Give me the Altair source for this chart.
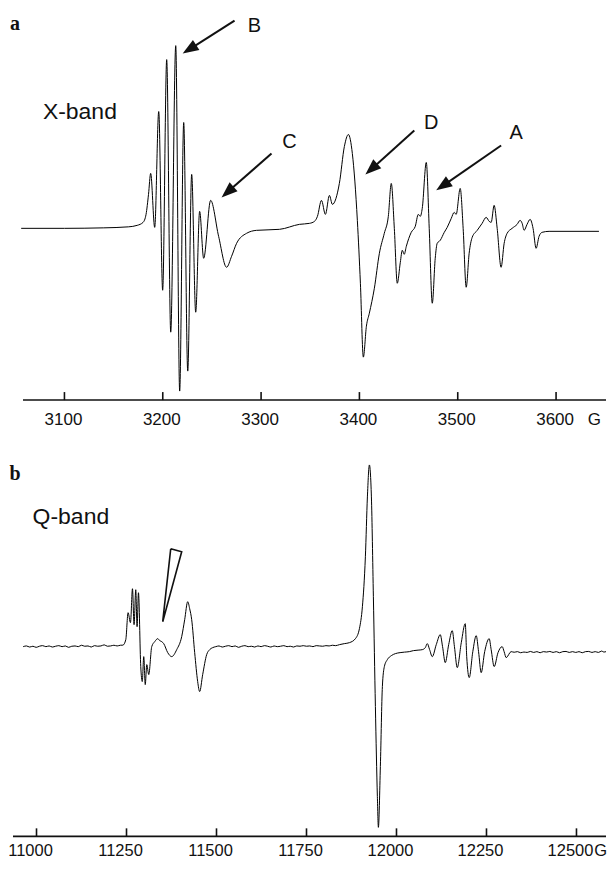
import altair as alt
import pandas as pd

# ---------------- Panel a: X-band EPR spectrum (field in G, signal in a.u.) -------------
xband_field = [3056, 3100, 3140, 3165, 3174, 3180, 3183, 3185.5, 3187.7, 3191.8, 3195.9, 3199.9,
               3204.0, 3208.1, 3213.2, 3217.2, 3221.3, 3225.4, 3229.4, 3233.5, 3237.5, 3241.6,
               3248.7, 3256.8, 3264.9, 3270.0, 3275.1, 3285.2, 3295.4, 3318.7, 3339.0, 3349.2,
               3354.3, 3357.3, 3361.4, 3365.4, 3369.5, 3372.5, 3379.6, 3384.7, 3388.8, 3392.8,
               3397.9, 3401.0, 3404.0, 3407.1, 3410.1, 3415.2, 3420.3, 3425.3, 3429.4, 3432.4,
               3435.5, 3438.5, 3441.6, 3443.6, 3445.6, 3447.7, 3452.7, 3456.8, 3459.9, 3461.9,
               3463.9, 3468.0, 3471.0, 3474.1, 3477.1, 3479.1, 3482.2, 3486.3, 3489.3, 3493.4,
               3496.4, 3498.4, 3502.5, 3505.5, 3508.6, 3511.6, 3514.7, 3519.8, 3524.8, 3528.9,
               3532.0, 3534.0, 3537.0, 3540.1, 3544.1, 3547.2, 3550.2, 3555.3, 3560.4, 3563.4,
               3565.5, 3567.5, 3570.5, 3573.6, 3576.6, 3579.7, 3582.7, 3585.8, 3592.9, 3643.6]
xband_signal = [0, 0, 0.5, 1.5, 3, 6, 14, 34, 55, 1, 117, -62,
                169, -104, 183, -163, 106, -143, 54, -84, 17, -30,
                28, -8, -39, -28, -15, -5, -2, -1, 4, 5,
                7, 12, 28, 14, 33, 24, 45, 82, 94, 75,
                8, -55, -129, -98, -85, -60, -25, -5, 12, 45,
                0, -55, -34, -22, -26, -18, -4, 2, 14, 12,
                20, 66, 0, -75, -30, -15, -12, -4, 1, 10,
                16, 14, 40, 0, -59, -25, -9, -2, 5, 11,
                7, 6, 23, 0, -39, -15, -5, 0, 4, 8,
                5, -2, 4, 9, 0, -20, -8, -4, -3, -3]

# ---------------- Panel b: Q-band EPR spectrum ----------------
qband_field = [10963, 10972, 10981, 10990, 10999, 11008, 11017, 11026, 11035, 11044, 11053, 11062,
               11071, 11080, 11089, 11098, 11107, 11116, 11125, 11134, 11143, 11152, 11161, 11170,
               11179, 11188, 11197, 11206, 11215, 11224, 11233, 11240,
               11248, 11254.4, 11261.0, 11266.6, 11271.0, 11275.7, 11279.4, 11283.2,
               11289.6, 11293.8, 11297.9, 11302.1, 11306.3, 11311.8, 11320.1, 11328.4, 11336.8,
               11342.3, 11347.9, 11353.4, 11364.5, 11375.6, 11389.5, 11403.3, 11411.6, 11420.0,
               11425.5, 11431.1, 11439.4, 11447.7, 11453.2, 11461.6, 11472.7, 11481.0, 11489.3,
               11498, 11507, 11516, 11525, 11534, 11543, 11552, 11561, 11570, 11579, 11588, 11597,
               11606, 11615, 11624, 11633, 11642, 11651, 11660, 11669, 11678, 11687, 11696, 11705,
               11714, 11723, 11732, 11741, 11750, 11759, 11768, 11777, 11786, 11795, 11804, 11813,
               11822, 11831, 11841.5,
               11855, 11869.3, 11885.9, 11897.0, 11905.3, 11913.6, 11919.2, 11924.7, 11930.3,
               11935.8, 11941.4, 11946.9, 11949.7, 11955.2, 11960.8, 11966.3, 11974.6, 11985.7,
               11996.8, 12010, 12022, 12035.7, 12047, 12060, 12071.7,
               12080, 12085.6, 12092, 12099.4, 12110.5, 12121.6, 12128, 12135.5, 12145, 12154.9,
               12161, 12168.8, 12180, 12191.0, 12195.1, 12202.1, 12212, 12221.5, 12228, 12235.3,
               12245, 12257.5, 12263, 12271.4, 12282, 12293.6, 12299, 12304.7, 12318.5,
               12327, 12336, 12345, 12354, 12363, 12372, 12381, 12390, 12399, 12408, 12417, 12426,
               12435, 12444, 12453, 12462, 12471, 12480, 12489, 12498, 12507, 12516, 12525, 12534,
               12543, 12552, 12561, 12570, 12576, 12582]
qband_signal = [0, 0.7, -0.4, 0.4, -0.7, 0.4, 1.0, 0, 0.7, -0.4, 0.4, 1.0,
                0, 0.7, -0.7, 0.4, 0.7, 0, 1.4, 0.4, 0.7, -0.4, 1.0, 0.4,
                0.7, 1.8, 0.4, 0.7, 1.4, 0.7, 1.4, 1.5,
                7, 34, 24, 58, 22, 57, 20, 54,
                -20, -35, -10, -38, -18, -28, 0, 5, 8,
                6, 5, 3, -6, -10, -3, 10, 27, 45,
                38, 27, -6, -35, -45, -28, -8, -3, -1,
                0, 0.7, -0.4, 0.4, 1.0, 0, 0.7, -0.7, 0.4, 1.0, 0, 0.4,
                -0.4, 0.7, 0, 1.0, 0.4, -0.4, 0.7, 0, 0.4, 1.0, 0, 0.4,
                -0.4, 0.7, 0.4, 1.0, 0.4, 0.7, 0, 1.0, 0.7, 0.4, 1.0, 0.7,
                1.4, 1.0, 2,
                3, 4, 8, 18, 40, 90, 150, 182, 150,
                50, -60, -150, -181, -120, -40, -20, -13, -9,
                -7, -6, -5.5, -5, -4, -3.5, -3,
                -1, 3, -3, -10, 2, 12, 0, -16, 2, 16,
                0, -21, 4, 23, -10, -31, -5, 11, -5, -26,
                -5, 8, -3, -20, -6, 0, -5, -11, -5,
                -5.6, -5, -6.1, -5.4, -5.8, -4.8, -5.8, -5, -6.1, -5, -5.4, -4.8,
                -5.8, -5, -6.1, -5, -4.8, -5.8, -5, -5.8, -5, -6.1, -5, -4.8,
                -5.8, -5, -5.8, -4.4, -5.4, -5]

xband_ticks = [3100, 3200, 3300, 3400, 3500, 3600]
qband_ticks = [11000, 11250, 11500, 11750, 12000, 12250, 12500]

# annotations of panel a (data coordinates)
peak_labels = ["B", "C", "D", "A"]
peak_label_field = [3293.3, 3328.9, 3473.1, 3559.4]
peak_label_signal = [203, 86, 106, 95]
arrow_from_field = [3273.0, 3310.6, 3455.8, 3544.1]
arrow_from_signal = [208, 75, 98, 83]
arrow_head_field = [3227.1, 3265.9, 3412.1, 3484.8]
arrow_head_signal = [179.3, 36.3, 59.3, 42.6]
arrow_angle = [237.6, 228.6, 228.1, 235.3]

# annotations of panel b: open triangle pointer
pointer_field = [11372.8, 11403.3, 11350.6, 11372.8]
pointer_signal = [98, 95, 25, 98]

FONT = "Liberation Sans"
INK = "#111111"
W, H1, H2 = 600, 425, 428

xa = alt.Scale(domain=[3042.6, 3651.8], nice=False, zero=False)
ya = alt.Scale(domain=[-205, 220], nice=False, zero=False)
xb = alt.Scale(domain=[10920.8, 12584.8], nice=False, zero=False)
yb = alt.Scale(domain=[-214, 214], nice=False, zero=False)


def spectrum(field, signal, xs, ys):
    df = pd.DataFrame({"G": field, "I": signal})
    return alt.Chart(df).mark_line(color="#000000", strokeWidth=1.0, interpolate="monotone").encode(
        x=alt.X("G:Q", scale=xs, axis=None),
        y=alt.Y("I:Q", scale=ys, axis=None),
    )


def axis_layers(ticks, xs, x0, x1, yline, label_y, label_dx, unit_x, fsize):
    tdf = pd.DataFrame({"t": ticks})
    one = pd.DataFrame({"u": ["G"]})
    line = alt.Chart(one).mark_rule(color=INK, strokeWidth=1.6).encode(
        x=alt.value(x0), x2=alt.value(x1), y=alt.value(yline))
    tk = alt.Chart(tdf).mark_rule(color=INK, strokeWidth=1.6).encode(
        x=alt.X("t:Q", scale=xs, axis=None), y=alt.value(yline - 8), y2=alt.value(yline))
    lab = alt.Chart(tdf).mark_text(font=FONT, fontSize=fsize, color=INK, baseline="middle",
                                   align="center", dx=label_dx).encode(
        x=alt.X("t:Q", scale=xs, axis=None), y=alt.value(label_y),
        text=alt.Text("t:Q", format="d"))
    unit = alt.Chart(one).mark_text(font=FONT, fontSize=fsize, color=INK, baseline="middle",
                                    align="right").encode(
        x=alt.value(unit_x), y=alt.value(label_y), text="u:N")
    return [line, tk, lab, unit]


def text_at(txt, g, i, xs, ys, size, font=FONT, weight="normal"):
    df = pd.DataFrame({"G": [g], "I": [i], "t": [txt]})
    return alt.Chart(df).mark_text(font=font, fontSize=size, fontWeight=weight, color=INK,
                                   align="center", baseline="middle").encode(
        x=alt.X("G:Q", scale=xs, axis=None), y=alt.Y("I:Q", scale=ys, axis=None), text="t:N")


# ---- panel a
ann = pd.DataFrame({"lab": peak_labels, "lg": peak_label_field, "li": peak_label_signal,
                    "g0": arrow_from_field, "i0": arrow_from_signal,
                    "g1": arrow_head_field, "i1": arrow_head_signal, "ang": arrow_angle})
shafts = alt.Chart(ann).mark_rule(color=INK, strokeWidth=2).encode(
    x=alt.X("g0:Q", scale=xa, axis=None), y=alt.Y("i0:Q", scale=ya, axis=None),
    x2="g1:Q", y2="i1:Q")
heads = alt.Chart(ann).mark_point(shape="M0,-1L-0.75,1L0.75,1Z", filled=True, opacity=1,
                                  color=INK, size=256, strokeWidth=0).encode(
    x=alt.X("g1:Q", scale=xa, axis=None), y=alt.Y("i1:Q", scale=ya, axis=None),
    angle=alt.Angle("ang:Q", scale=None))
peak_text = alt.Chart(ann).mark_text(font=FONT, fontSize=20, color=INK, align="center",
                                     baseline="middle").encode(
    x=alt.X("lg:Q", scale=xa, axis=None), y=alt.Y("li:Q", scale=ya, axis=None), text="lab:N")

top = alt.layer(
    *axis_layers(xband_ticks, xa, 15, 599, 392, 412, -1, 594, 17),
    spectrum(xband_field, xband_signal, xa, ya),
    shafts, heads, peak_text,
    text_at("a", 3049.7, 205, xa, ya, 20, font="Liberation Serif", weight="bold"),
    text_at("X-band", 3115.7, 117, xa, ya, 23),
).properties(width=W, height=H1)

# ---- panel b
tri = pd.DataFrame({"G": pointer_field, "I": pointer_signal, "o": [0, 1, 2, 3]})
pointer = alt.Chart(tri).mark_line(color=INK, strokeWidth=1.6, strokeJoin="miter").encode(
    x=alt.X("G:Q", scale=xb, axis=None), y=alt.Y("I:Q", scale=yb, axis=None), order="o:Q")

bottom = alt.layer(
    *axis_layers(qband_ticks, xb, 5, 599, 404, 419, -6, 600, 16.5),
    spectrum(qband_field, qband_signal, xb, yb),
    pointer,
    text_at("b", 10940.2, 173, xb, yb, 20, font="Liberation Serif", weight="bold"),
    text_at("Q-band", 11095.5, 130, xb, yb, 23),
).properties(width=W, height=H2)

chart = alt.vconcat(top, bottom, spacing=0).properties(padding=0).configure_view(
    stroke=None).configure_concat(spacing=0)

chart.save("out.html", embed_options={"renderer": "svg", "actions": False})
